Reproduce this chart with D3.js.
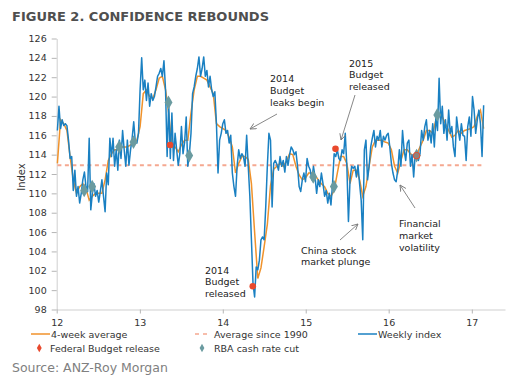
<!DOCTYPE html>
<html><head><meta charset="utf-8">
<script src="https://cdn.jsdelivr.net/npm/d3@7"></script>
<style>
html,body{margin:0;padding:0;background:#fff;}
svg{display:block;font-family:"DejaVu Sans",Verdana,sans-serif;}
</style></head>
<body><svg id="c" width="529" height="382"></svg>
<script>
// ---------- DATA ----------
const yearTicks = ["12","13","14","15","16","17"];
const yTicks = [98,100,102,104,106,108,110,112,114,116,118,120,122,124,126];
const averageSince1990 = 112.9;

// Weekly index (one value per week, starting first week of Jan 2012)
const weekly2012 = [116.5,119.0,116.7,117.6,117.0,117.2,117.0,115.5,113.6,113.8,110.3,112.4,109.7,110.7,109.0,110.0,111.4,112.2,110.7,110.2,115.7,108.3,110.0,111.0,109.7,110.3,109.1,110.2,111.4,109.7,108.1,112.1,110.9,115.7,113.8,115.7,112.8,114.5,112.4,115.5,113.6,116.5,114.5,112.8,115.5,112.9,114.5,115.7,117.4,115.3,115.2,116.2];
const weekly2013 = [120.7,124.0,120.7,121.7,119.6,121.4,119.0,120.3,119.6,120.0,121.0,122.1,122.4,122.9,122.1,123.7,120.7,113.8,119.3,113.6,118.3,113.4,116.2,114.5,112.9,114.1,116.9,114.1,115.3,117.9,112.8,114.1,116.2,120.3,121.0,122.1,122.9,124.1,122.1,122.9,124.1,122.1,122.7,121.0,122.1,120.7,120.0,120.5,117.2,112.1,115.5,116.2];
const weekly2014 = [117.2,117.6,116.2,116.5,115.2,116.0,112.1,110.7,109.7,112.8,114.5,113.6,114.1,113.8,112.8,116.0,112.8,109.7,105.2,100.7,99.3,102.4,102.1,103.1,105.2,105.5,105.2,108.6,112.8,116.2,115.5,108.6,113.1,113.4,113.0,112.4,113.8,112.8,113.4,112.2,113.8,112.9,114.0,114.8,114.5,114.0,114.3,112.8,110.7,110.2,111.4,112.1];
const weekly2015 = [111.2,113.6,112.8,112.4,111.4,112.8,111.7,110.0,111.4,110.7,112.1,111.0,109.7,110.3,109.0,110.0,108.8,111.0,114.1,113.8,114.5,113.6,113.4,114.5,114.1,116.2,112.8,107.1,111.4,112.8,112.6,112.8,111.7,112.9,111.0,109.3,105.2,114.5,115.5,111.4,112.8,114.8,115.7,116.5,114.8,115.9,115.5,116.5,114.8,115.9,115.5,116.0];
const weekly2016 = [116.2,114.8,113.1,112.1,111.4,111.2,112.4,114.5,112.8,116.5,114.5,113.4,115.2,115.5,112.8,114.0,111.7,114.1,113.8,113.4,114.1,116.5,115.5,116.9,117.6,115.5,116.5,115.2,117.2,114.8,117.9,116.5,121.9,117.2,119.0,116.2,117.6,115.5,118.6,116.2,116.9,114.8,113.8,117.9,116.5,115.5,117.2,116.0,115.9,113.4,116.9,117.9,115.9];
const weekly2017 = [120.0,118.6,116.2,117.6,118.6,117.2,113.8,119.1];

// 4-week average (read every second week)
const avg4w2012 = [113.1,117.6,117.2,116.5,113.8,111.4,110.0,110.7,111.0,110.5,109.3,109.7,110.0,110.0,110.0,111.4,113.4,114.1,114.5,114.5,114.8,114.8,114.8,115.0,115.2,115.5];
const avg4w2013 = [116.9,120.3,120.7,120.0,119.8,120.7,121.9,122.1,120.7,118.3,114.8,114.8,114.3,115.0,115.5,115.5,118.3,120.7,122.1,122.1,121.9,121.7,121.0,120.3,117.2,116.9];
const avg4w2014 = [116.7,116.5,115.8,114.8,112.1,113.1,113.8,113.8,113.5,111.0,106.0,101.2,102.3,104.5,106.8,110.8,112.5,112.8,113.1,112.8,113.3,114.1,114.0,112.8,111.9,111.4];
const avg4w2015 = [111.6,112.1,112.1,111.9,111.4,111.0,110.7,110.0,109.7,110.3,112.1,113.8,113.8,113.1,111.0,112.4,112.4,111.4,109.7,110.7,112.8,114.8,115.5,115.5,115.5,115.3];
const avg4w2016 = [115.2,114.5,112.8,112.1,113.4,114.5,114.5,114.1,113.8,114.0,114.8,115.5,116.5,116.5,116.2,117.6,118.1,117.9,117.2,116.5,115.8,116.0,116.5,116.2,116.5,116.6];
const avg4w2017 = [116.7,116.9,118.0,118.6,116.7];

const budgetDates = ["2013-05-14","2014-05-13","2015-05-12","2016-05-03"];
const budgetValues = [115.0,100.4,114.6,113.9];
const rbaDates = ["2012-05-01","2012-06-05","2012-10-02","2012-12-04","2013-05-07","2013-08-06","2015-02-03","2015-05-05","2016-05-03","2016-08-02"];
const rbaValues = [110.3,110.7,114.8,115.3,119.4,113.9,111.7,110.7,113.9,118.1];

// ---------- BUILD ----------
const weekly = [].concat(weekly2012,weekly2013,weekly2014,weekly2015,weekly2016,weekly2017);
const avg4w = [].concat(avg4w2012,avg4w2013,avg4w2014,avg4w2015,avg4w2016,avg4w2017);
const weekStart = new Date(2012,0,4);
const weekDates = d3.range(weekly.length).map(i => d3.timeDay.offset(weekStart, 7*i));
const avgDates = d3.range(avg4w.length).map(i => weekDates[Math.min(2*i, weekDates.length-1)]);
const parse = d3.timeParse("%Y-%m-%d");

const C = {blue:"#1a80c2", orange:"#f0922b", dash:"#f5a890", red:"#e9492d", teal:"#6a9ba0", axis:"#cfcfcf", text:"#222"};

const svg = d3.select("#c");
const x = d3.scaleTime().domain([new Date(2012,0,1), new Date(2017,4,27)]).range([56.7,505]);
const y = d3.scaleLinear().domain([98,126]).range([309.5,38.5]);

// title
svg.append("text").attr("x",12).attr("y",21).attr("font-size",13).attr("font-weight","bold")
  .attr("fill","#4f4f4f").text("FIGURE 2. CONFIDENCE REBOUNDS");

// axes
const yAxis = d3.axisLeft(y).tickValues(yTicks).tickSize(5).tickPadding(5).tickSizeOuter(0);
const gy = svg.append("g").attr("transform","translate(56.7,0)").call(yAxis);
gy.selectAll("text").attr("font-size",9.5).attr("fill","#333").attr("font-family","DejaVu Sans");
gy.selectAll("line").attr("stroke","#b5b5b5");
gy.select(".domain").attr("stroke",C.axis);

const xAxis = d3.axisBottom(x).tickValues(yearTicks.map(t => new Date(2000+ +t,0,1)))
  .tickFormat(d3.timeFormat("%y")).tickSize(4).tickPadding(6).tickSizeOuter(0);
const gx = svg.append("g").attr("transform","translate(0,309.5)").call(xAxis);
gx.selectAll("text").attr("font-size",9.5).attr("fill","#333").attr("font-family","DejaVu Sans");
gx.selectAll("line").attr("stroke","#b5b5b5");
gx.select(".domain").attr("stroke",C.axis);

svg.append("text").attr("transform","translate(25,177) rotate(-90)").attr("text-anchor","middle")
  .attr("font-size",10).attr("fill","#333").text("Index");

// average since 1990
svg.append("line").attr("x1",x(weekDates[0])).attr("x2",x(weekDates[weekDates.length-1]))
  .attr("y1",y(averageSince1990)).attr("y2",y(averageSince1990))
  .attr("stroke",C.dash).attr("stroke-width",2).attr("stroke-dasharray","4,3.5");

// lines
const lineW = d3.line().x((d,i)=>x(weekDates[i])).y(d=>y(d));
const lineA = d3.line().x((d,i)=>x(avgDates[i])).y(d=>y(d));
svg.append("path").datum(avg4w).attr("d",lineA).attr("fill","none").attr("stroke",C.orange).attr("stroke-width",1.5);
svg.append("path").datum(weekly).attr("d",lineW).attr("fill","none").attr("stroke",C.blue).attr("stroke-width",1.5).attr("stroke-linejoin","round");

// markers
const diamond = d3.symbol().type(d3.symbolDiamond);
svg.selectAll(".rba").data(rbaDates).join("path").attr("class","rba")
  .attr("d",diamond.size(55)()).attr("fill",C.teal)
  .attr("transform",(d,i)=>`translate(${x(parse(d))},${y(rbaValues[i])})`);
svg.selectAll(".bud").data(budgetDates).join("circle").attr("class","bud")
  .attr("r",3.3).attr("fill",C.red).attr("fill-opacity",(d,i)=>i===3?0.3:1).attr("stroke",C.red).attr("stroke-width",(d,i)=>i===3?1:0)
  .attr("cx",d=>x(parse(d))).attr("cy",(d,i)=>y(budgetValues[i]));

// annotations
const defs = svg.append("defs");
defs.append("marker").attr("id","ah").attr("viewBox","0 0 8 8").attr("refX",7).attr("refY",4)
  .attr("markerWidth",7).attr("markerHeight",7).attr("orient","auto").attr("markerUnits","userSpaceOnUse")
  .append("path").attr("d","M0,0.5 L7,4 L0,7.5").attr("fill","none").attr("stroke","#777").attr("stroke-width",1);

const notes = [
  {lines:["2014","Budget","leaks begin"], tx:270, ty:82, ax1:277, ay1:114, ax2:250, ay2:129},
  {lines:["2015","Budget","released"], tx:349, ty:66.5, ax1:355, ay1:95, ax2:341, ay2:140},
  {lines:["2014","Budget","released"], tx:205, ty:273.5},
  {lines:["China stock","market plunge"], tx:301, ty:253.5, ax1:340, ay1:240, ax2:358, ay2:224},
  {lines:["Financial","market","volatility"], tx:399, ty:227, ax1:415, ay1:208, ax2:400, ay2:185}
];
notes.forEach(n=>{
  const t = svg.append("text").attr("font-size",9.5).attr("fill",C.text);
  n.lines.forEach((l,i)=> t.append("tspan").attr("x",n.tx).attr("y",n.ty+i*11.8).text(l));
  if(n.ax1!==undefined){
    svg.append("line").attr("x1",n.ax1).attr("y1",n.ay1).attr("x2",n.ax2).attr("y2",n.ay2)
      .attr("stroke","#888").attr("stroke-width",1).attr("marker-end","url(#ah)");
  }
});

// legend
const lg = svg.append("g").attr("font-size",9.5).attr("fill","#333");
lg.append("line").attr("x1",31).attr("x2",50).attr("y1",334).attr("y2",334).attr("stroke",C.orange).attr("stroke-width",1.5);
lg.append("text").attr("x",51).attr("y",337.5).text("4-week average");
lg.append("line").attr("x1",195).attr("x2",211).attr("y1",334).attr("y2",334).attr("stroke",C.dash).attr("stroke-width",1.5).attr("stroke-dasharray","4,4");
lg.append("text").attr("x",214).attr("y",337.5).text("Average since 1990");
lg.append("line").attr("x1",358).attr("x2",377).attr("y1",334).attr("y2",334).attr("stroke",C.blue).attr("stroke-width",1.5);
lg.append("text").attr("x",378).attr("y",337.5).text("Weekly index");
lg.append("path").attr("d",d3.symbol().type(d3.symbolDiamond).size(20)()).attr("transform","translate(39.3,348)").attr("fill",C.red);
lg.append("text").attr("x",50).attr("y",351.5).text("Federal Budget release");
lg.append("path").attr("d",d3.symbol().type(d3.symbolDiamond).size(20)()).attr("transform","translate(202,348)").attr("fill",C.teal);
lg.append("text").attr("x",214).attr("y",351.5).text("RBA cash rate cut");

// source
svg.append("text").attr("x",12).attr("y",371.5).attr("font-size",12.5).attr("fill","#808080").text("Source: ANZ-Roy Morgan");
</script></body></html>
